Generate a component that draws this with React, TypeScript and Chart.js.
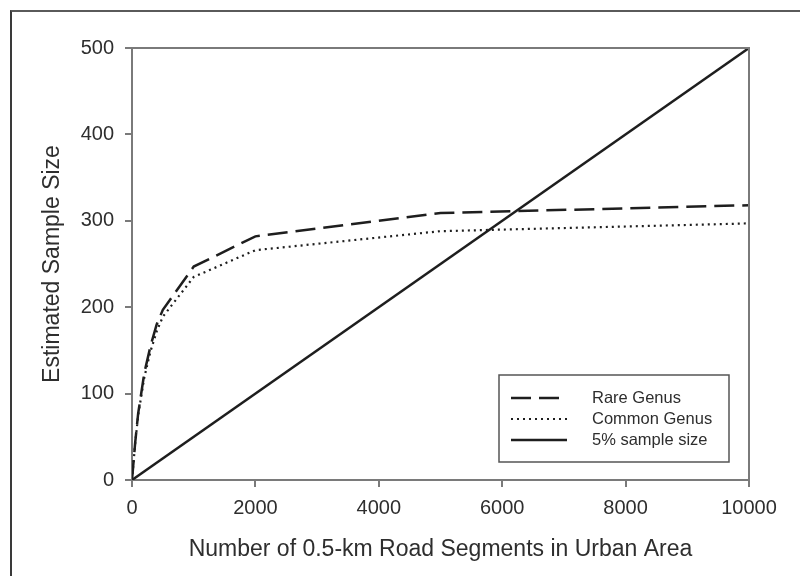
import { useEffect, useRef } from "react";
import { Chart, registerables } from "chart.js";

Chart.register(...registerables);

// ---- data ----
const segments = [0, 50, 100, 200, 300, 400, 500, 1000, 2000, 5000, 10000];
const rareGenus = [0, 42, 77, 124, 155, 180, 197, 247, 282, 309, 318];
const commonGenus = [0, 41, 75, 119, 149, 172, 189, 235, 266, 288, 297];
const fivePctX = [0, 10000];
const fivePctY = [0, 500];
const xTicks = [0, 2000, 4000, 6000, 8000, 10000];
const yTicks = [0, 100, 200, 300, 400, 500];
const seriesNames = ["Rare Genus", "Common Genus", "5% sample size"];

const FONT = "'Liberation Sans', Arial, Helvetica, sans-serif";
const AXIS = "#7a7a7a";
const TEXT = "#2e2e2e";
const INK = "#1e1e1e";

const boxLegend = {
  id: "boxLegend",
  afterDraw(chart: any) {
    const ctx = chart.ctx as CanvasRenderingContext2D;
    const { top, right, bottom } = chart.chartArea;
    ctx.save();
    // remaining plot frame (top & right)
    ctx.strokeStyle = AXIS;
    ctx.lineWidth = 2;
    ctx.beginPath();
    ctx.moveTo(chart.chartArea.left, top);
    ctx.lineTo(right, top);
    ctx.lineTo(right, bottom);
    ctx.stroke();

    // legend box
    const bw = 230;
    const bh = 87;
    const bx = right - 20 - bw;
    const by = bottom - 18 - bh;
    ctx.strokeStyle = "#555";
    ctx.lineWidth = 1.5;
    ctx.strokeRect(bx, by, bw, bh);
    ctx.font = `16.5px ${FONT}`;
    ctx.textBaseline = "middle";
    ctx.fillStyle = TEXT;
    const rows = [by + 23, by + 44, by + 65];
    chart.data.datasets.forEach((ds: any, i: number) => {
      const y = rows[i];
      ctx.beginPath();
      ctx.strokeStyle = ds.borderColor;
      ctx.lineWidth = ds.borderWidth;
      ctx.setLineDash(ds.borderDash || []);
      ctx.moveTo(bx + 12, y);
      ctx.lineTo(bx + 68, y);
      ctx.stroke();
      ctx.setLineDash([]);
      ctx.fillText(ds.label, bx + 93, y);
    });
    ctx.restore();
  },
};

export default function App() {
  const ref = useRef<HTMLCanvasElement | null>(null);

  useEffect(() => {
    if (!ref.current) return;
    const chart = new Chart(ref.current, {
      type: "line",
      data: {
        datasets: [
          {
            label: seriesNames[0],
            data: segments.map((x, i) => ({ x, y: rareGenus[i] })),
            borderColor: INK,
            borderWidth: 2.5,
            borderDash: [20, 8],
            pointRadius: 0,
            tension: 0,
          },
          {
            label: seriesNames[1],
            data: segments.map((x, i) => ({ x, y: commonGenus[i] })),
            borderColor: INK,
            borderWidth: 2.2,
            borderDash: [2, 4],
            pointRadius: 0,
            tension: 0,
          },
          {
            label: seriesNames[2],
            data: fivePctX.map((x, i) => ({ x, y: fivePctY[i] })),
            borderColor: INK,
            borderWidth: 2.5,
            pointRadius: 0,
            tension: 0,
          },
        ],
      },
      options: {
        animation: false,
        responsive: false,
        devicePixelRatio: 1,
        layout: { padding: { top: 48, right: 51, left: 0, bottom: 0 } },
        plugins: { legend: { display: false }, tooltip: { enabled: false } },
        scales: {
          x: {
            type: "linear",
            min: 0,
            max: 10000,
            afterBuildTicks: (s: any) => {
              s.ticks = xTicks.map((v) => ({ value: v }));
            },
            afterFit: (s: any) => {
              s.height = 96;
            },
            border: { display: true, color: AXIS, width: 2 },
            grid: {
              display: true,
              drawOnChartArea: false,
              drawTicks: true,
              tickLength: 7,
              color: AXIS,
              lineWidth: 2,
            },
            ticks: {
              color: TEXT,
              padding: 9,
              maxRotation: 0,
              font: { family: FONT, size: 20 },
              callback: (v: any) => String(v),
            },
            title: {
              display: true,
              text: "Number of 0.5-km Road Segments in Urban Area",
              color: TEXT,
              font: { family: FONT, size: 23 },
              padding: { top: 0, bottom: 13 },
            },
          },
          y: {
            type: "linear",
            min: 0,
            max: 500,
            afterBuildTicks: (s: any) => {
              s.ticks = yTicks.map((v) => ({ value: v }));
            },
            afterFit: (s: any) => {
              s.width = 132;
            },
            border: { display: true, color: AXIS, width: 2 },
            grid: {
              display: true,
              drawOnChartArea: false,
              drawTicks: true,
              tickLength: 7,
              color: AXIS,
              lineWidth: 2,
            },
            ticks: {
              color: TEXT,
              padding: 11,
              font: { family: FONT, size: 20 },
              callback: (v: any) => String(v),
            },
            title: {
              display: true,
              text: "Estimated Sample Size",
              color: TEXT,
              font: { family: FONT, size: 23 },
              padding: { top: 39, bottom: 0 },
            },
          },
        },
      },
      plugins: [boxLegend],
    });
    return () => chart.destroy();
  }, []);

  return (
    <div style={{ position: "absolute", left: 0, top: 0, width: 800, height: 576, background: "#fff" }}>
      <div
        style={{
          position: "absolute",
          left: 10,
          top: 10,
          width: 790,
          height: 566,
          borderTop: "2px solid #5a5a5a",
          borderLeft: "2px solid #3a3a3a",
          boxSizing: "border-box",
        }}
      />
      <canvas ref={ref} width={800} height={576} style={{ position: "absolute", left: 0, top: 0 }} />
    </div>
  );
}
